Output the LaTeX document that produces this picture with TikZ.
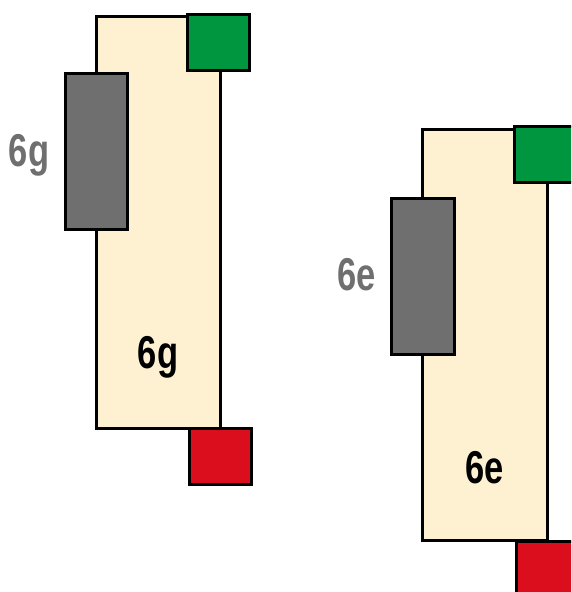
\documentclass[tikz,border=0pt]{standalone}
\usepackage{fontspec}
\setmainfont{Liberation Sans}
\usepackage{graphicx}
\definecolor{cream}{HTML}{FEF1D2}
\definecolor{grn}{HTML}{009640}
\definecolor{gry}{HTML}{6F6F6F}
\definecolor{rd}{HTML}{DA0E1C}
\tikzset{
  box/.style={draw=black,line width=3pt},
  lbl/.style={font=\fontsize{46}{46}\selectfont\bfseries,anchor=base,inner sep=0pt},
}
\newcommand{\cond}[1]{\scalebox{0.75}[1]{#1}}
\begin{document}
\begin{tikzpicture}[x=1pt,y=-1pt]
\useasboundingbox (0,0) rectangle (571,592);
\clip (0,0) rectangle (571,592);
% left group
\draw[box,fill=cream] (96,16) rectangle (220,428);
\draw[box,fill=gry] (65,73) rectangle (127,229);
\draw[box,fill=grn] (187,14) rectangle (249,70);
\draw[box,fill=rd] (189,428) rectangle (251,484);
\node[lbl,text=gry] (g1) at (29,166) {\cond{6g}};
\node[lbl,text=black] (g2) at (158,368) {\cond{6g}};
% right group
\draw[box,fill=cream] (422,129) rectangle (547,540);
\draw[box,fill=gry] (391,198) rectangle (454,354);
\draw[box,fill=grn] (514,126) rectangle (580,182);
\draw[box,fill=rd] (516,541) rectangle (580,600);
\node[lbl,text=gry] (e1) at (357,290) {\cond{6e}};
\node[lbl,text=black] (e2) at (485,483) {\cond{6e}};
\end{tikzpicture}
\end{document}
